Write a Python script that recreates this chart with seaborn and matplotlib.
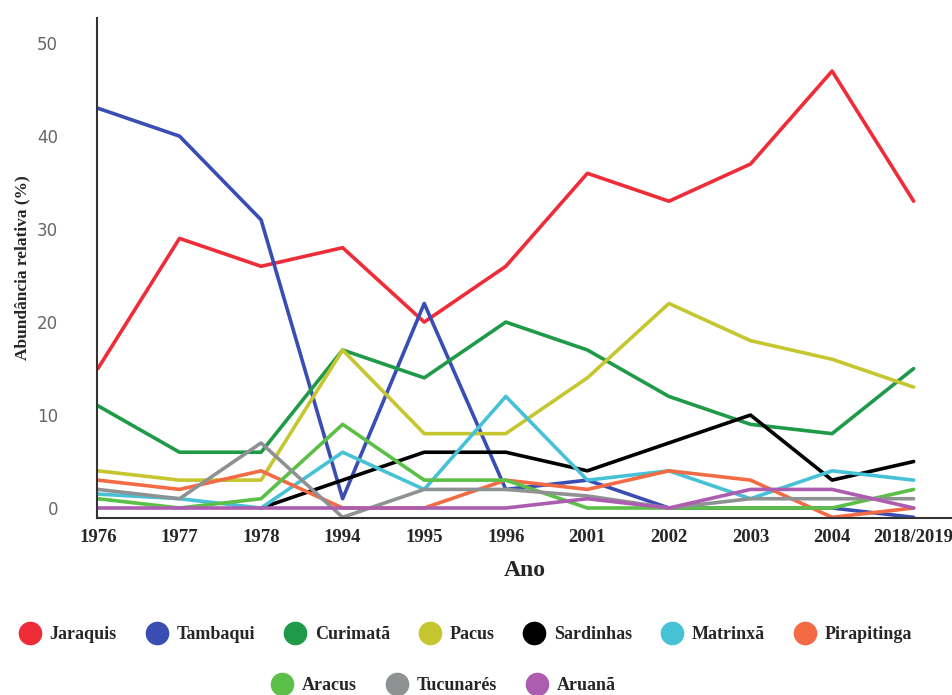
import numpy as np
import pandas as pd
import seaborn as sns
import matplotlib.pyplot as plt
from matplotlib.lines import Line2D

anos = ["1976", "1977", "1978", "1994", "1995", "1996", "2001", "2002", "2003", "2004", "2018/2019"]

jaraquis = [15, 29, 26, 28, 20, 26, 36, 33, 37, 47, 33]
tambaqui = [43, 40, 31, 1, 22, 2, 3, 0, 0, 0, -1]
curimata = [11, 6, 6, 17, 14, 20, 17, 12, 9, 8, 15]
pacus = [4, 3, 3, 17, 8, 8, 14, 22, 18, 16, 13]
sardinhas = [np.nan, np.nan, 0, 3, 6, 6, 4, 7, 10, 3, 5]
matrinxa = [1.5, 1, 0, 6, 2, 12, 3, 4, 1, 4, 3]
pirapitinga = [3, 2, 4, 0, 0, 3, 2, 4, 3, -1, 0]
aracus = [1, 0, 1, 9, 3, 3, 0, 0, 0, 0, 2]
tucunares = [2, 1, 7, -1, 2, 2, 1.3, 0, 1, 1, 1]
aruana = [0, 0, 0, 0, 0, 0, 1, 0, 2, 2, 0]

especies = ["Jaraquis", "Tambaqui", "Curimatã", "Pacus", "Sardinhas",
            "Matrinxã", "Pirapitinga", "Aracus", "Tucunarés", "Aruanã"]
series = [jaraquis, tambaqui, curimata, pacus, sardinhas,
          matrinxa, pirapitinga, aracus, tucunares, aruana]
cores = ["#ee2d38", "#3a4db3", "#1f9a48", "#c5c630", "#000000",
         "#47c1d6", "#f26b45", "#5cbf48", "#8f9293", "#ad5db0"]

rows = []
for nome, vals in zip(especies, series):
    for i, v in enumerate(vals):
        rows.append({"pos": i, "valor": v, "especie": nome})
df = pd.DataFrame(rows).dropna()

sns.set_style("white")
plt.rcParams["font.family"] = ["Liberation Serif", "DejaVu Serif"]

fig = plt.figure(figsize=(9.52, 6.95), dpi=100)
ax = fig.add_axes([0.102, 0.255, 0.898, 0.719])

sns.lineplot(data=df, x="pos", y="valor", hue="especie", hue_order=especies,
             palette=dict(zip(especies, cores)), linewidth=2.6, ax=ax,
             legend=False)

ax.set_xlim(-0.01, 10.47)
ax.set_ylim(-1.05, 52.7)
ax.set_xticks(range(len(anos)))
ax.set_xticklabels(anos, fontsize=13.5, fontweight="bold")
ax.set_yticks([0, 10, 20, 30, 40, 50])
ax.set_yticklabels(["0", "10", "20", "30", "40", "50"], fontsize=12,
                   color="#666666", family="DejaVu Sans")
ax.tick_params(axis="both", length=0)
ax.tick_params(axis="y", pad=28)
ax.tick_params(axis="x", pad=8)
for s in ["top", "right"]:
    ax.spines[s].set_visible(False)
for s in ["left", "bottom"]:
    ax.spines[s].set_color("#333333")
    ax.spines[s].set_linewidth(1.5)

ax.set_xlabel("Ano", fontsize=17, fontweight="bold", labelpad=10)
ax.set_ylabel("Abundância relativa (%)", fontsize=12.5, fontweight="bold")
ax.yaxis.set_label_coords(-0.078, 0.5)

handles = [Line2D([], [], marker="o", linestyle="", markersize=16,
                  markerfacecolor=c, markeredgecolor=c) for c in cores]
leg1 = fig.legend(handles[:7], especies[:7], loc="center", ncol=7,
                  bbox_to_anchor=(0.485, 0.087), frameon=False,
                  prop={"weight": "bold", "size": 13}, handletextpad=0.1,
                  columnspacing=1.2)
leg2 = fig.legend(handles[7:], especies[7:], loc="center", ncol=3,
                  bbox_to_anchor=(0.462, 0.013), frameon=False,
                  prop={"weight": "bold", "size": 13}, handletextpad=0.1,
                  columnspacing=1.2)

fig.savefig("out.png", dpi=100)
